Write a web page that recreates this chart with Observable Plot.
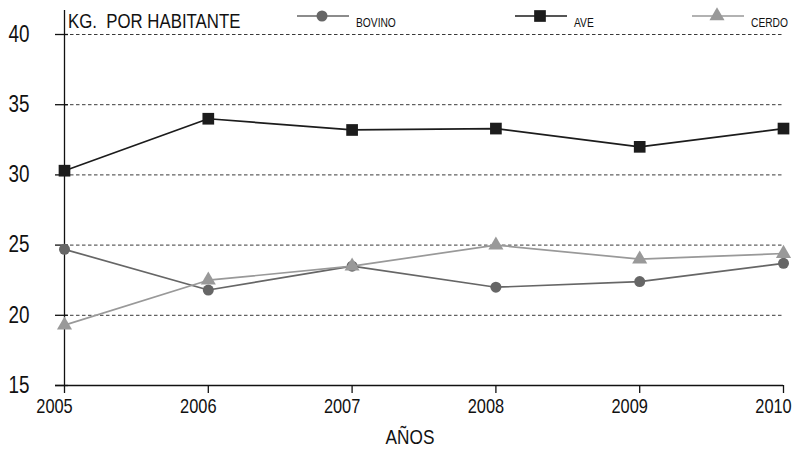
<!DOCTYPE html>
<html><head><meta charset="utf-8">
<script src="https://cdn.jsdelivr.net/npm/d3@7"></script>
<script src="https://cdn.jsdelivr.net/npm/@observablehq/plot@0.6"></script>
<style>
body{margin:0;background:#fff;}
#chart svg, #chart svg text{font-family:"Liberation Sans",Arial,sans-serif;}
</style>
</head><body><div id="chart"></div>
<script>
const years = [2005, 2006, 2007, 2008, 2009, 2010];
const bovino = [24.7, 21.8, 23.5, 22.0, 22.4, 23.7];
const ave = [30.3, 34.0, 33.2, 33.3, 32.0, 33.3];
const cerdo = [19.3, 22.5, 23.5, 25.0, 24.0, 24.4];
const yTicks = [15, 20, 25, 30, 35, 40];
const gridTicks = [20, 25, 30, 35, 40];
const seriesNames = ["BOVINO", "AVE", "CERDO"];
const yTitle = "KG.  POR HABITANTE";
const xTitle = "AÑOS";

const colors = {BOVINO: "#666666", AVE: "#1c1c1c", CERDO: "#999999"};
const symbols = {BOVINO: "circle", AVE: "square", CERDO: "triangle"};
const radii = {BOVINO: 5.5, AVE: 6.6, CERDO: 5.6};
const vals = {BOVINO: bovino, AVE: ave, CERDO: cerdo};
const NARROW = 0.82;

const data = seriesNames.flatMap(s => years.map((y, i) => ({series: s, year: y, value: vals[s][i]})));

const marks = [
  Plot.ruleY(gridTicks, {y: d => d, stroke: "#3a3a3a", strokeWidth: 1, strokeDasharray: "3.5,2.5"}),
  Plot.ruleY(yTicks, {y: d => d, x1: 2005, x2: 2005, insetLeft: -9, insetRight: -4, stroke: "#111", strokeWidth: 1.3}),
  Plot.ruleY([15], {y: d => d, stroke: "#111", strokeWidth: 1.3, insetLeft: -9}),
  Plot.ruleX([2005], {x: d => d, stroke: "#111", strokeWidth: 1.3, insetTop: -24}),
  Plot.ruleX(years, {x: d => d, y1: 15, y2: 15, insetBottom: -8, stroke: "#111", strokeWidth: 1.3}),
  Plot.axisY({ticks: yTicks, tickSize: 0, tickPadding: 35, fontSize: 23, tickFormat: d => d, color: "#111"}),
  Plot.axisX({ticks: years, tickSize: 0, tickPadding: 13, fontSize: 20, dx: -10, tickFormat: d => String(d), color: "#111"}),
];
for (const s of seriesNames) {
  const d = data.filter(r => r.series === s);
  marks.push(Plot.line(d, {x: "year", y: "value", stroke: colors[s], strokeWidth: 1.7}));
  marks.push(Plot.dot(d, {x: "year", y: "value", fill: colors[s], symbol: symbols[s], r: radii[s], stroke: "none"}));
}

const plot = Plot.plot({
  width: 793, height: 467,
  marginLeft: 64, marginRight: 10, marginTop: 34, marginBottom: 82,
  x: {domain: [2005, 2010], label: null},
  y: {domain: [15, 40], label: null},
  style: {fontFamily: '"Liberation Sans",Arial,sans-serif', background: "#fff", overflow: "visible"},
  marks
});

// narrow the axis labels around their anchors (condensed look)
d3.select(plot).selectAll("text").each(function() {
  const t = this.getAttribute("transform") || "";
  this.setAttribute("transform", t + ` scale(${NARROW},1)`);
});

const svg = d3.select(plot);
function narrowText(x, y, size, str, anchor) {
  svg.append("text").attr("transform", `translate(${x},${y}) scale(${NARROW},1)`)
    .attr("font-size", size).attr("fill", "#111").attr("text-anchor", anchor).text(str);
}
narrowText(68, 28, 20.5, yTitle, "start");
narrowText(410, 444, 21, xTitle, "middle");

const legendPos = {BOVINO: 297, AVE: 515, CERDO: 692};
for (const s of seriesNames) {
  const x0 = legendPos[s];
  const g = svg.append("g");
  g.append("line").attr("x1", x0).attr("x2", x0 + 52).attr("y1", 16).attr("y2", 16).attr("stroke", colors[s]).attr("stroke-width", 1.7);
  const sym = {circle: d3.symbolCircle, square: d3.symbolSquare, triangle: d3.symbolTriangle}[symbols[s]];
  g.append("path").attr("d", d3.symbol(sym, Math.PI * radii[s] * radii[s])()).attr("transform", `translate(${x0 + 25},16)`).attr("fill", colors[s]);
  narrowText(x0 + 59, 27, 12.5, s, "start");
}

document.getElementById("chart").appendChild(plot);
</script>
</body></html>
